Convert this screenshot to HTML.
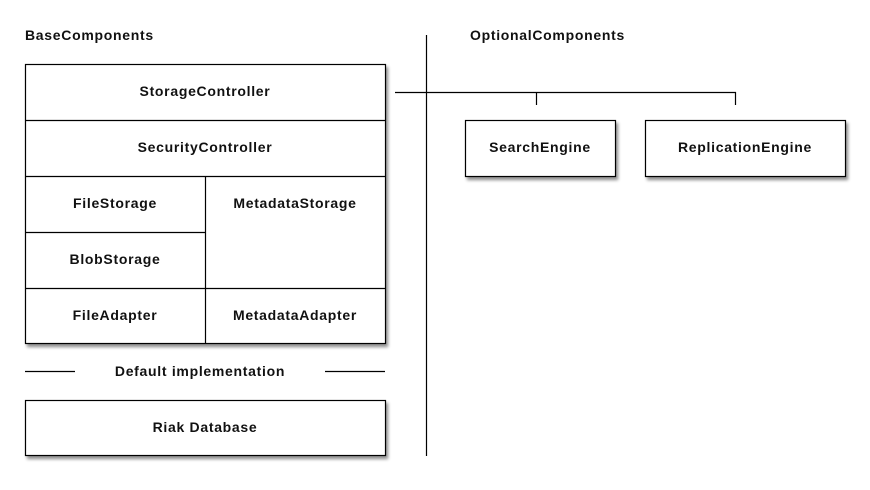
<!DOCTYPE html>
<html><head><meta charset="utf-8"><style>
html,body{margin:0;padding:0;background:#fff;}
svg{display:block;}
text{font-family:"Liberation Sans","DejaVu Sans",sans-serif;font-weight:bold;font-size:14px;fill:#111;letter-spacing:0.7px;}
</style></head><body>
<svg width="870" height="490" viewBox="0 0 870 490" xmlns="http://www.w3.org/2000/svg">
<defs>
<filter id="sh" x="-5%" y="-5%" width="115%" height="120%">
<feGaussianBlur in="SourceAlpha" stdDeviation="1.5"/>
<feOffset dx="2" dy="3" result="b"/>
<feComponentTransfer><feFuncA type="linear" slope="0.45"/></feComponentTransfer>
<feMerge><feMergeNode/><feMergeNode in="SourceGraphic"/></feMerge>
</filter>
</defs>
<g stroke="#000" stroke-width="1.2" fill="#fff">
<rect x="25.5" y="64.5" width="360" height="279" filter="url(#sh)"/>
<rect x="25.5" y="400.5" width="360" height="55" filter="url(#sh)"/>
<rect x="465.5" y="120.5" width="150" height="56" filter="url(#sh)"/>
<rect x="645.5" y="120.5" width="200" height="56" filter="url(#sh)"/>
</g>
<g stroke="#000" stroke-width="1.2" fill="none">
<line x1="25" y1="120.5" x2="385" y2="120.5"/>
<line x1="25" y1="176.5" x2="385" y2="176.5"/>
<line x1="25" y1="232.5" x2="205" y2="232.5"/>
<line x1="25" y1="288.5" x2="385" y2="288.5"/>
<line x1="205.5" y1="176" x2="205.5" y2="343"/>
<line x1="25" y1="371.5" x2="75" y2="371.5"/>
<line x1="325" y1="371.5" x2="385" y2="371.5"/>
<line x1="426.5" y1="35" x2="426.5" y2="456"/>
<line x1="395" y1="92.5" x2="736" y2="92.5"/>
<line x1="536.5" y1="92" x2="536.5" y2="105"/>
<line x1="735.5" y1="92" x2="735.5" y2="105"/>
</g>
<text x="25" y="40">BaseComponents</text>
<text x="470" y="40">OptionalComponents</text>
<g text-anchor="middle">
<text x="205" y="96">StorageController</text>
<text x="205" y="152">SecurityController</text>
<text x="115" y="208">FileStorage</text>
<text x="295" y="208">MetadataStorage</text>
<text x="115" y="264">BlobStorage</text>
<text x="115" y="320">FileAdapter</text>
<text x="295" y="320">MetadataAdapter</text>
<text x="200" y="376">Default implementation</text>
<text x="205" y="432">Riak Database</text>
<text x="540" y="152">SearchEngine</text>
<text x="745" y="152">ReplicationEngine</text>
</g>
</svg>
</body></html>
